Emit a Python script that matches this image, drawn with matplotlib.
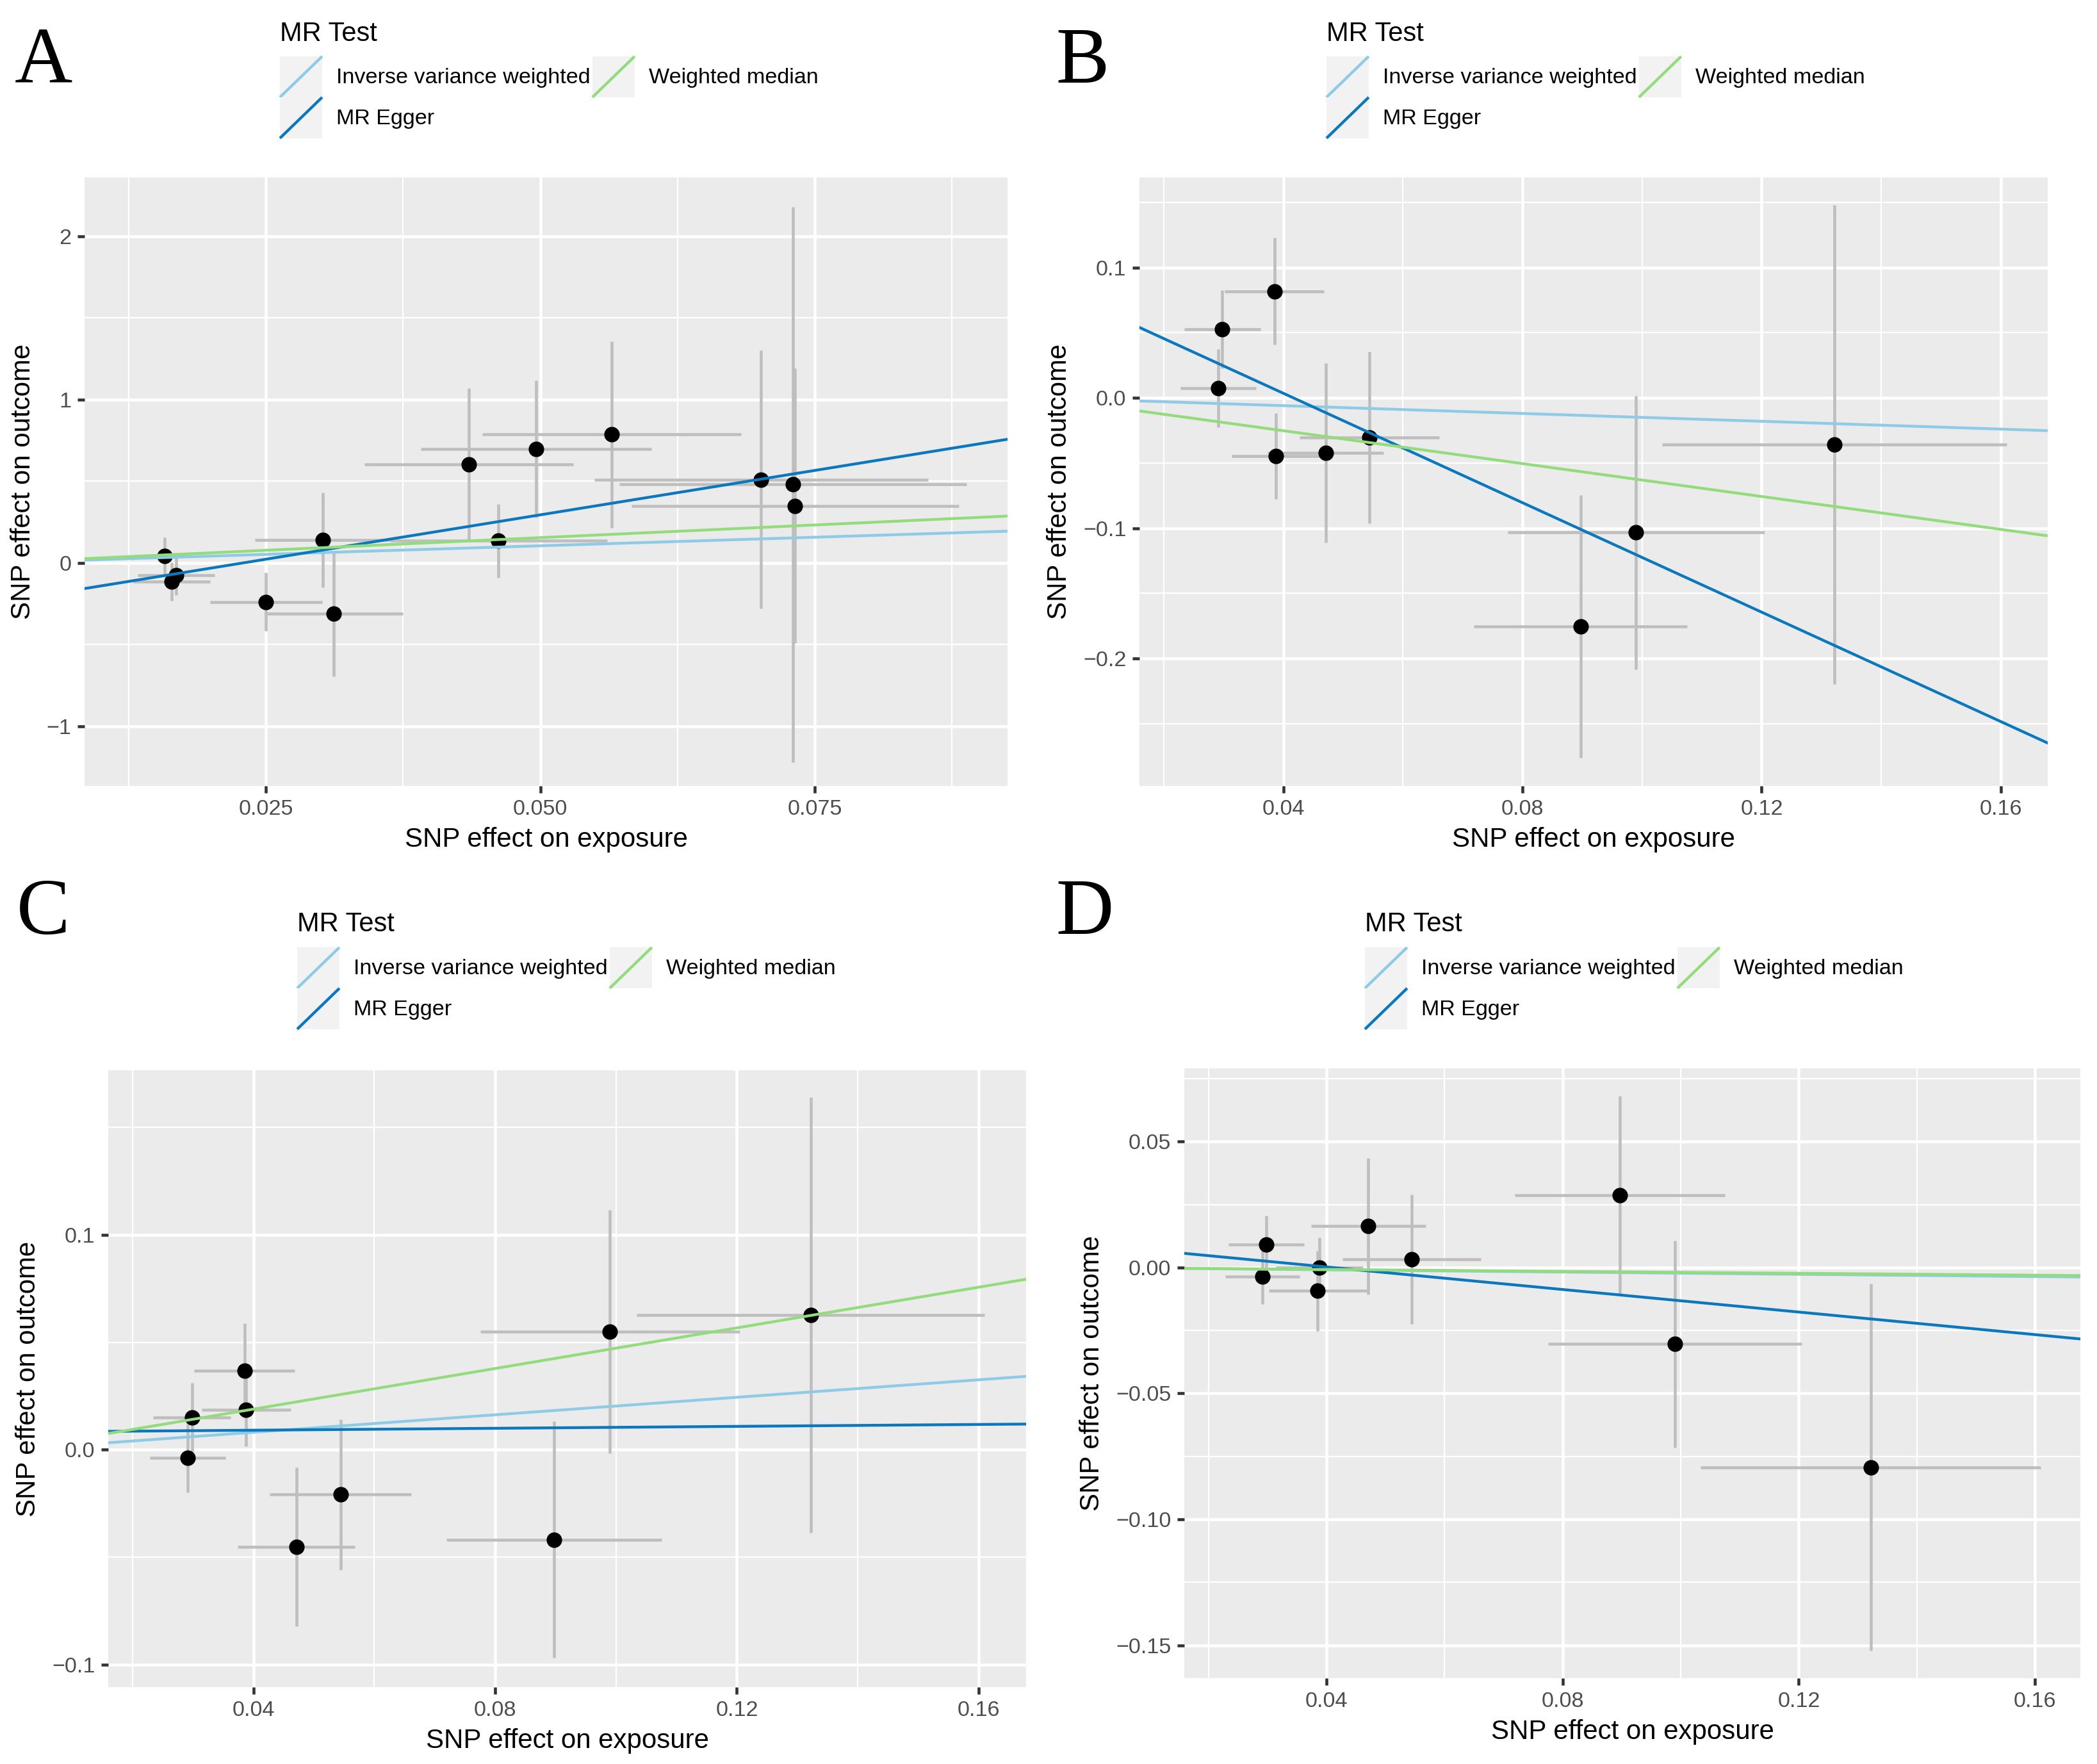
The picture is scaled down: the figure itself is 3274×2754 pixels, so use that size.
import matplotlib
matplotlib.use("Agg")
import matplotlib.pyplot as plt
from matplotlib.legend_handler import HandlerBase
from matplotlib.patches import Rectangle
from matplotlib.lines import Line2D
from matplotlib.ticker import FixedLocator, MultipleLocator, FuncFormatter

plt.rcParams['font.family'] = ['Liberation Sans', 'DejaVu Sans']

# ---- data ----
methods = ['Inverse variance weighted', 'MR Egger', 'Weighted median']
method_colors = ['#8ECBE6', '#0B78BD', '#93DC7C']

# panel A
a_exp = [0.0158, 0.0168, 0.0164, 0.0250, 0.0302, 0.0462, 0.0312, 0.0435, 0.0496, 0.0565, 0.0701, 0.0730, 0.0732]
a_exp_se = [0.0022, 0.0035, 0.0035, 0.0051, 0.0062, 0.0099, 0.0063, 0.0095, 0.0105, 0.0118, 0.0152, 0.0158, 0.0149]
a_out = [0.043, -0.075, -0.114, -0.238, 0.139, 0.135, -0.310, 0.605, 0.696, 0.787, 0.510, 0.480, 0.350]
a_out_se = [0.114, 0.120, 0.118, 0.178, 0.290, 0.226, 0.384, 0.465, 0.420, 0.570, 0.790, 1.700, 0.840]
a_slope = [2.10, 10.87, 3.10]
a_icept = [0.0, -0.249, 0.0]

# panels B, C, D share the exposure SNPs
bcd_exp = [0.0291, 0.0298, 0.0385, 0.0388, 0.0471, 0.0544, 0.0897, 0.0990, 0.1322]
bcd_exp_se = [0.0063, 0.0064, 0.0083, 0.0074, 0.0097, 0.0117, 0.0178, 0.0215, 0.0288]

b_out = [0.0072, 0.0527, 0.0819, -0.0447, -0.0422, -0.0304, -0.1755, -0.1034, -0.0359]
b_out_se = [0.030, 0.030, 0.041, 0.033, 0.069, 0.066, 0.101, 0.105, 0.184]
b_slope = [-0.150, -2.10, -0.631]
b_icept = [0.0, 0.0875, 0.0]

c_out = [-0.0039, 0.0151, 0.0367, 0.0187, -0.0453, -0.0208, -0.0419, 0.0549, 0.0627]
c_out_se = [0.016, 0.016, 0.022, 0.017, 0.037, 0.035, 0.055, 0.0566, 0.1014]
c_slope = [0.2034, 0.0223, 0.4727]
c_icept = [0.0, 0.0082, 0.0]

d_out = [-0.0036, 0.0091, -0.0093, 0.0000, 0.0164, 0.0033, 0.0287, -0.0304, -0.0793]
d_out_se = [0.011, 0.0116, 0.016, 0.012, 0.027, 0.0257, 0.0394, 0.041, 0.0728]
d_slope = [-0.0224, -0.224, -0.019]
d_icept = [0.0, 0.0092, 0.0]

W, H = 3274, 2754
DPI = 300


def fx(px):
    return px / W


def fy(py):
    return 1 - py / H


def minus(fmt):
    return FuncFormatter(lambda v, p: fmt.format(v).replace('-', '\u2212'))


class KeyHandler(HandlerBase):
    # ggplot style legend key: grey square with a diagonal line
    def create_artists(self, legend, orig_handle, xdescent, ydescent,
                       width, height, fontsize, trans):
        x0, y0 = -xdescent, -ydescent
        bg = Rectangle((x0, y0), width, height, facecolor='#F2F2F2',
                       edgecolor='none', transform=trans)
        ln = Line2D([x0, x0 + width], [y0, y0 + height],
                    color=orig_handle.get_color(), lw=orig_handle.get_linewidth(),
                    transform=trans, solid_capstyle='butt')
        return [bg, ln]


def make_panel(fig, box, exp, exp_se, out, out_se, slopes, icepts,
               xlim, ylim, xticks, yticks, xminor, yminor, xfmt, yfmt):
    left, top, right, bottom = box
    ax = fig.add_axes([fx(left), fy(bottom), fx(right) - fx(left), fy(top) - fy(bottom)])
    ax.set_facecolor('#EBEBEB')
    for s in ax.spines.values():
        s.set_visible(False)
    ax.errorbar(exp, out, yerr=out_se, fmt='none', ecolor='#BEBEBE',
                elinewidth=1.1, capsize=0, zorder=2)
    ax.errorbar(exp, out, xerr=exp_se, fmt='none', ecolor='#BEBEBE',
                elinewidth=1.1, capsize=0, zorder=2)
    ax.plot(exp, out, 'o', color='black', markersize=4.8, zorder=3)
    handles = []
    for m, c, s, i in zip(methods, method_colors, slopes, icepts):
        ln = ax.axline((0, i), slope=s, color=c, lw=1.05, zorder=4, label=m)
        handles.append(ln)
    ax.set_xlim(*xlim)
    ax.set_ylim(*ylim)
    ax.xaxis.set_major_locator(FixedLocator(xticks))
    ax.yaxis.set_major_locator(FixedLocator(yticks))
    ax.xaxis.set_minor_locator(MultipleLocator(xminor))
    ax.yaxis.set_minor_locator(MultipleLocator(yminor))
    ax.xaxis.set_major_formatter(minus(xfmt))
    ax.yaxis.set_major_formatter(minus(yfmt))
    ax.grid(which='major', color='white', lw=1.1)
    ax.grid(which='minor', color='white', lw=0.55)
    ax.set_axisbelow(True)
    ax.tick_params(which='major', length=2.75, width=1.1, color='#333333',
                   labelcolor='#4D4D4D', labelsize=8.2, pad=2.2)
    ax.tick_params(which='minor', length=0)
    ax.set_xlabel('SNP effect on exposure', fontsize=10.1, labelpad=3)
    ax.set_ylabel('SNP effect on outcome', fontsize=10.1, labelpad=4)
    return ax, handles


def add_legend(fig, handles, key_left, key_top, title_base):
    fig.text(fx(key_left), fy(title_base), 'MR Test', fontsize=10, ha='left', va='baseline')
    fig.legend(handles=handles, labels=methods, ncol=2, loc='upper left',
               bbox_to_anchor=(fx(key_left), fy(key_top)), frameon=False,
               fontsize=8.2, handlelength=1.93, handleheight=2.5, handletextpad=0.64,
               labelspacing=0.0, columnspacing=0.1, borderpad=0, borderaxespad=0,
               handler_map={Line2D: KeyHandler()})


fig = plt.figure(figsize=(W / DPI, H / DPI), dpi=DPI)

ax, h = make_panel(fig, (132, 277, 1573, 1227), a_exp, a_exp_se, a_out, a_out_se,
                   a_slope, a_icept, (0.00848, 0.09256), (-1.365, 2.36),
                   [0.025, 0.05, 0.075], [-1, 0, 1, 2], 0.0125, 0.5, '{:.3f}', '{:.0f}')
add_legend(fig, h, 437, 88, 64)

ax, h = make_panel(fig, (1779, 277, 3197, 1227), bcd_exp, bcd_exp_se, b_out, b_out_se,
                   b_slope, b_icept, (0.01593, 0.16784), (-0.2979, 0.1692),
                   [0.04, 0.08, 0.12, 0.16], [-0.2, -0.1, 0.0, 0.1], 0.02, 0.05, '{:.2f}', '{:.1f}')
add_legend(fig, h, 2071, 88, 64)

ax, h = make_panel(fig, (169, 1671, 1602, 2634), bcd_exp, bcd_exp_se, c_out, c_out_se,
                   c_slope, c_icept, (0.01596, 0.16787), (-0.1105, 0.1766),
                   [0.04, 0.08, 0.12, 0.16], [-0.1, 0.0, 0.1], 0.02, 0.05, '{:.2f}', '{:.1f}')
add_legend(fig, h, 464, 1479, 1454)

ax, h = make_panel(fig, (1849, 1668, 3248, 2620), bcd_exp, bcd_exp_se, d_out, d_out_se,
                   d_slope, d_icept, (0.01591, 0.16769), (-0.1631, 0.0791),
                   [0.04, 0.08, 0.12, 0.16], [-0.15, -0.10, -0.05, 0.0, 0.05], 0.02, 0.025,
                   '{:.2f}', '{:.2f}')
add_legend(fig, h, 2131, 1479, 1454)

# panel letters
for letter, px, py in [('A', 23, 129), ('B', 1648, 129), ('C', 26, 1458), ('D', 1648, 1458)]:
    fig.text(fx(px), fy(py), letter, family=['Liberation Serif', 'DejaVu Serif'],
             fontsize=30, ha='left', va='baseline')

fig.savefig('out.png', dpi=DPI)
